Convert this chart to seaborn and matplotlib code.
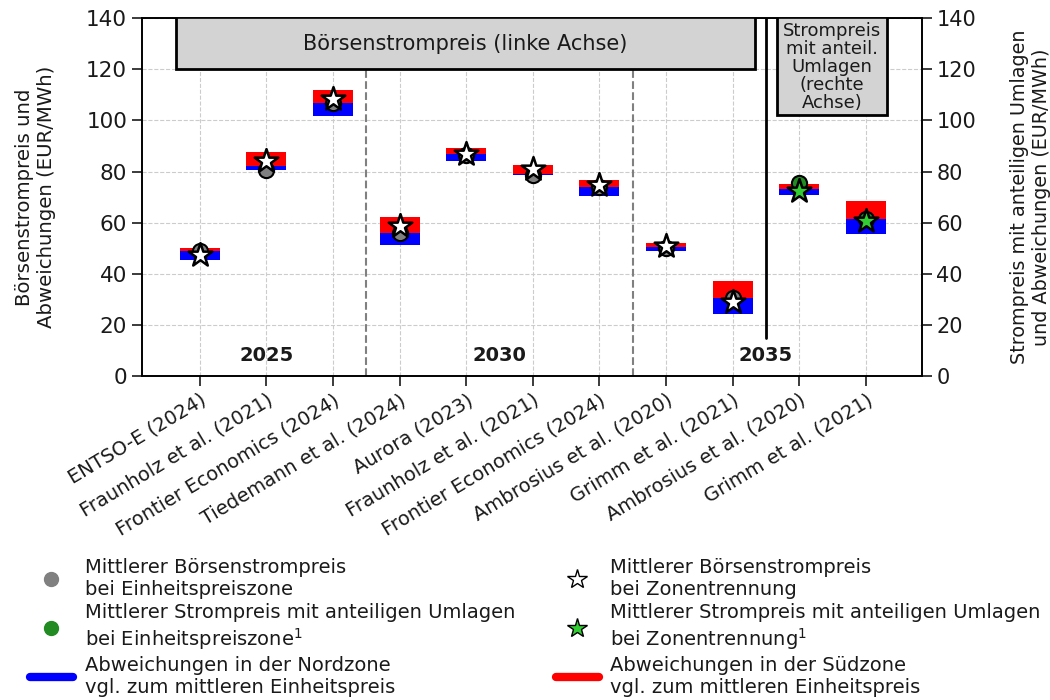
import matplotlib
matplotlib.use("Agg")
import matplotlib.pyplot as plt
from matplotlib.patches import Rectangle
from matplotlib.lines import Line2D
import seaborn as sns
import pandas as pd
import numpy as np

# --- Daten ---
studies = ["ENTSO-E (2024)", "Fraunholz et al. (2021)", "Frontier Economics (2024)",
           "Tiedemann et al. (2024)", "Aurora (2023)", "Fraunholz et al. (2021)",
           "Frontier Economics (2024)", "Ambrosius et al. (2020)", "Grimm et al. (2021)",
           "Ambrosius et al. (2020)", "Grimm et al. (2021)"]
# Mittelwert Einheitspreiszone (Kreis)
price_single = [49, 80.5, 107, 56, 86.5, 78.7, 74, 50, 30.5, 75.5, 61.5]
# Mittelwert Zonentrennung (Stern)
price_zonal = [47.5, 84, 108.5, 58.5, 86.8, 80.8, 74.8, 50.8, 29, 72.5, 60.7]
# Referenz fuer die Abweichungsbalken
price_ref = [49, 82, 107, 56, 86.8, 79, 74, 50.6, 30.4, 73.1, 61.6]
price_north = [45.5, 80.5, 101.7, 51.2, 84.1, 78.5, 70.5, 49, 24.2, 70.8, 55.4]
price_south = [50, 87.5, 111.8, 62.3, 89.3, 82.5, 76.6, 51.9, 37.3, 75.3, 68.4]
with_levies = [False] * 9 + [True] * 2

years = ["2025", "2030", "2035"]
year_pos = [1, 4.5, 8.5]

df = pd.DataFrame({
    "pos": np.arange(len(studies)),
    "single": price_single,
    "zonal": price_zonal,
    "ref": price_ref,
    "north": price_north,
    "south": price_south,
    "levies": with_levies,
})

sns.set_style("ticks")
plt.rcParams['font.family'] = ['DejaVu Sans']
plt.rcParams['text.color'] = '#1a1a1a'
plt.rcParams['axes.labelcolor'] = '#1a1a1a'
plt.rcParams['xtick.color'] = '#1a1a1a'
plt.rcParams['ytick.color'] = '#1a1a1a'

fig = plt.figure(figsize=(10.5, 7), dpi=100)
ax = fig.add_axes([0.135, 0.463, 0.743, 0.511])
ax2 = ax.twinx()

# Abweichungsbalken
ax.bar(df["pos"], df["ref"] - df["north"], bottom=df["north"], width=0.6,
       color="blue", edgecolor="none", linewidth=0, zorder=3)
ax.bar(df["pos"], df["south"] - df["ref"], bottom=df["ref"], width=0.6,
       color="red", edgecolor="none", linewidth=0, zorder=3)

base = df[~df["levies"]]
lev = df[df["levies"]]

sns.scatterplot(data=base, x="pos", y="single", ax=ax, color="grey", s=120,
                edgecolor="black", linewidth=1.5, zorder=4, legend=False)
sns.scatterplot(data=base, x="pos", y="zonal", ax=ax, marker="*", color="white", s=320,
                edgecolor="black", linewidth=1.8, zorder=5, legend=False)
sns.scatterplot(data=lev, x="pos", y="single", ax=ax, color="forestgreen", s=120,
                edgecolor="black", linewidth=1.5, zorder=4, legend=False)
sns.scatterplot(data=lev, x="pos", y="zonal", ax=ax, marker="*", color="limegreen", s=320,
                edgecolor="black", linewidth=1.8, zorder=5, legend=False)

ax.set_xlim(-0.87, 10.84)
ax.set_ylim(0, 140)
ax2.set_ylim(0, 140)
ax.set_yticks(range(0, 141, 20))
ax2.set_yticks(range(0, 141, 20))
ax.set_xticks(df["pos"])
ax.set_xticklabels(studies, rotation=31, ha="right", rotation_mode="anchor", fontsize=14)
ax.tick_params(axis="y", labelsize=15.5, length=7, width=1.2)
ax.tick_params(axis="x", length=7, width=1.2)
ax2.tick_params(axis="y", labelsize=15, length=7, width=1.2)
ax.grid(True, color="#cccccc", linestyle="--", linewidth=0.8, zorder=0)
ax.set_axisbelow(True)
ax.set_xlabel("")
ax.set_ylabel("Börsenstrompreis und\nAbweichungen (EUR/MWh)", fontsize=14.2, labelpad=22)
ax2.set_ylabel("Strompreis mit anteiligen Umlagen\nund Abweichungen (EUR/MWh)",
               fontsize=13.8, labelpad=24)
for a in (ax, ax2):
    for sp in a.spines.values():
        sp.set_linewidth(1.2)
        sp.set_color("black")

# Trennlinien
for xv in (2.5, 6.5):
    ax.axvline(xv, color="grey", linestyle="--", linewidth=1.5, zorder=2)
ax.plot([8.5, 8.5], [15, 140], color="black", linewidth=2, zorder=2)

for yr, xp in zip(years, year_pos):
    ax.text(xp, 8, yr, ha="center", va="center", fontsize=14, fontweight="bold")

# Beschriftungskästen
ax.add_patch(Rectangle((-0.35, 120), 8.68, 22, facecolor="lightgrey", edgecolor="black",
                       linewidth=2, zorder=6, clip_on=True))
ax.text(3.99, 130, "Börsenstrompreis (linke Achse)", ha="center", va="center",
        fontsize=15, zorder=7)
ax.add_patch(Rectangle((8.66, 102), 1.66, 40, facecolor="lightgrey", edgecolor="black",
                       linewidth=2, zorder=6, clip_on=True))
ax.text(9.49, 121, "Strompreis\nmit anteil.\nUmlagen\n(rechte\nAchse)", ha="center",
        va="center", fontsize=13, linespacing=1.0, zorder=7)

# Legende
handles = [
    Line2D([], [], marker="o", linestyle="", color="grey", markersize=10),
    Line2D([], [], marker="o", linestyle="", color="forestgreen", markersize=10),
    Line2D([], [], color="blue", linewidth=6),
    Line2D([], [], marker="*", linestyle="", markerfacecolor="white",
           markeredgecolor="black", markersize=15),
    Line2D([], [], marker="*", linestyle="", markerfacecolor="limegreen",
           markeredgecolor="black", markersize=15),
    Line2D([], [], color="red", linewidth=6),
]
labels = [
    "Mittlerer Börsenstrompreis\nbei Einheitspreiszone",
    "Mittlerer Strompreis mit anteiligen Umlagen\nbei Einheitspreiszone$^1$",
    "Abweichungen in der Nordzone\nvgl. zum mittleren Einheitspreis",
    "Mittlerer Börsenstrompreis\nbei Zonentrennung",
    "Mittlerer Strompreis mit anteiligen Umlagen\nbei Zonentrennung$^1$",
    "Abweichungen in der Südzone\nvgl. zum mittleren Einheitspreis",
]
fig.legend(handles, labels, ncol=2, loc="upper left", bbox_to_anchor=(0.012, 0.228),
           frameon=False, fontsize=14, handlelength=2.2, columnspacing=2.1,
           labelspacing=0.2, handletextpad=0.6)

fig.savefig("out.png", dpi=100)
